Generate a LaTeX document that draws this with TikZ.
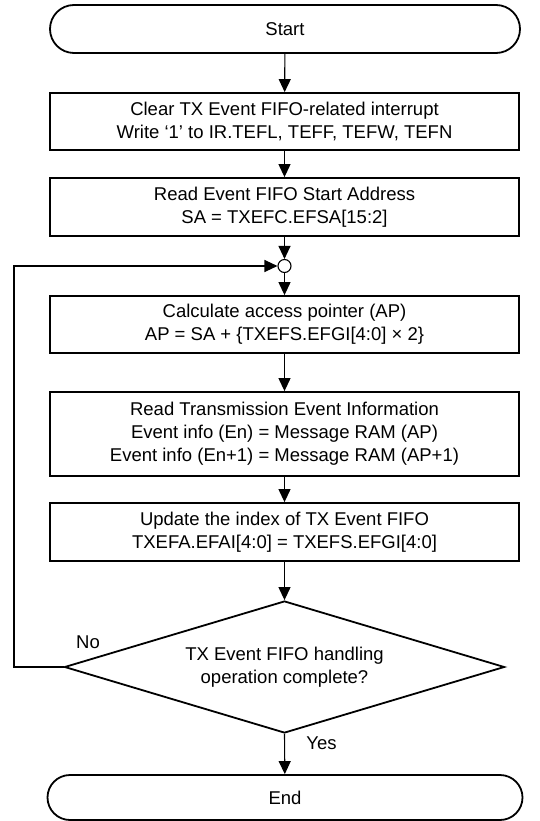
\documentclass[tikz,border=0pt]{standalone}
\usepackage{fontspec}
\setmainfont{Liberation Sans}
\usetikzlibrary{arrows.meta,shapes.misc,shapes.geometric}

\begin{document}
\begin{tikzpicture}[x=1pt, y=-1pt, >={Triangle[length=13pt,width=12pt]},
  every node/.style={font=\fontsize{18.5}{23}\selectfont},
  proc/.style={draw, line width=1.8pt, minimum width=469pt, align=center, inner sep=0pt},
  term/.style={draw, rounded rectangle, line width=1.8pt, inner sep=0pt},
  conn/.style={->, line width=1.1pt}]
  \useasboundingbox (0,0) rectangle (539,821);
  \node[term, minimum width=470pt, minimum height=48pt] (start) at (285,29) {Start};
  \node[proc, minimum height=57pt] (clr) at (284.5,121.5)
    {Clear TX Event FIFO-related interrupt\\Write ‘1’ to IR.TEFL, TEFF, TEFW, TEFN};
  \node[proc, minimum height=58pt] (rdsa) at (284.5,207)
    {Read Event FIFO Start Address\\SA = TXEFC.EFSA[15:2]};
  \node[draw, circle, line width=1.1pt, minimum size=13pt, inner sep=0pt] (join) at (284.5,266) {};
  \node[proc, minimum height=57pt] (calc) at (284.5,324.5)
    {Calculate access pointer (AP)\\AP = SA + \{TXEFS.EFGI[4:0] × 2\}};
  \node[proc, minimum height=84pt] (rdev) at (284.5,434)
    {Read Transmission Event Information\\Event info (En) = Message RAM (AP)\\Event info (En+1) = Message RAM (AP+1)};
  \node[proc, minimum height=58pt] (upd) at (284.5,532)
    {Update the index of TX Event FIFO\\TXEFA.EFAI[4:0] = TXEFS.EFGI[4:0]};
  \node[draw, diamond, line width=1.8pt, minimum width=440pt, minimum height=132pt,
    aspect=3.33, inner sep=0pt, align=center] (chk) at (284.5,667)
    {TX Event FIFO handling\\operation complete?};
  \node[term, minimum width=475pt, minimum height=45pt] (end) at (285,797.5) {End};
  \coordinate (lp) at (14,667);
  \draw[conn] (start) -- (clr);
  \draw[conn] (clr) -- (rdsa);
  \draw[conn] (rdsa) -- (join);
  \draw[conn] (join) -- (calc);
  \draw[conn] (calc) -- (rdev);
  \draw[conn] (rdev) -- (upd);
  \draw[conn] (upd) -- (chk);
  \draw[conn] (chk.south) -- (end) node[pos=0.22, right=18pt] {Yes};
  \draw[conn] (chk.west) -- (lp) |- (join.west);
  \node (no) at (88,642) {No};
\end{tikzpicture}
\end{document}
